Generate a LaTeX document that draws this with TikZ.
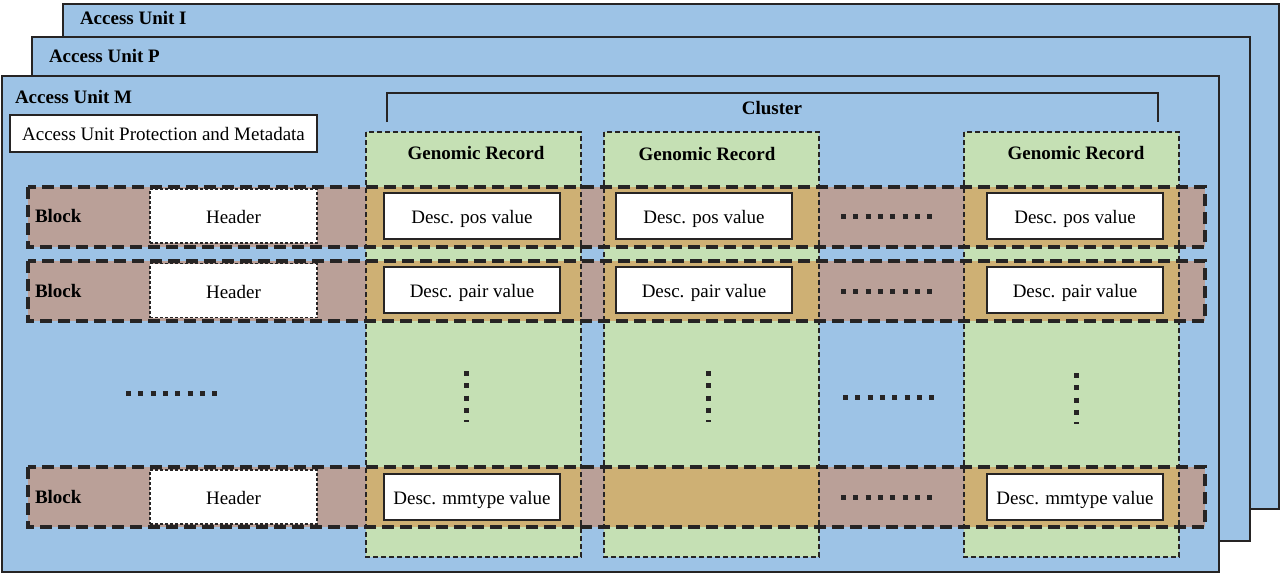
\documentclass[tikz,border=0pt]{standalone}
\usepackage{fontspec}
\setmainfont{Liberation Serif}
\usetikzlibrary{positioning}
\definecolor{aublue}{RGB}{157,195,230}
\definecolor{grgreen}{RGB}{197,224,180}
\definecolor{blkbrown}{RGB}{186,160,152}
\definecolor{overlap}{RGB}{206,176,116}
\definecolor{edge}{RGB}{38,36,36}
\tikzset{
  every node/.style={inner sep=0pt,outer sep=0pt},
  unit/.style={draw=edge,line width=2pt,fill=aublue,anchor=north west},
  title/.style={font=\fontsize{19}{22}\selectfont\bfseries,anchor=west},
  record/.style={fill=grgreen,anchor=north west,minimum width=215pt,minimum height=425pt},
  block/.style={fill=blkbrown,anchor=north west,minimum width=1177pt,minimum height=60pt},
  recedge/.style={draw=edge,line width=1.3pt,dash pattern=on 5pt off 3pt},
  blockedge/.style={draw=edge,line width=4pt,dash pattern=on 12pt off 6pt},
  header/.style={draw=edge,fill=white,line width=1.2pt,dash pattern=on 3pt off 2pt,minimum width=167pt,minimum height=54pt,text height=15pt,text depth=0pt},
  value/.style={draw=edge,fill=white,line width=2pt,minimum width=176pt,minimum height=46pt,text height=15pt,text depth=0pt},
  dots/.style={draw=edge,line width=5pt,dash pattern=on 5pt off 7.3pt}
}
\begin{document}
\begin{tikzpicture}[x=1pt,y=-1pt,font=\fontsize{19}{22}\selectfont]
  \useasboundingbox (0,0) rectangle (1280,573);
  % access units
  \node[unit,minimum width=1216pt,minimum height=505pt] (auI) at (63,4) {};
  \node[title] (tI) at (80,18) {Access Unit I};
  \node[unit,minimum width=1218pt,minimum height=504pt] (auP) at (32,37) {};
  \node[title] (tP) at (49,56) {Access Unit P};
  \node[unit,minimum width=1217pt,minimum height=496pt] (auM) at (2,76) {};
  \node[title] (tM) at (15,97) {Access Unit M};
  \node[draw=edge,fill=white,line width=2pt,minimum width=307pt,minimum height=37pt] (meta) at (163.5,133.5) {Access Unit Protection and Metadata};
  % cluster
  \coordinate (cl1) at (387,122);
  \coordinate (cl2) at (1158,122);
  \node[title,anchor=center] (cl) at (772,108) {Cluster};
  \draw[edge,line width=1.5pt] (cl1) -- ++(0,-29) -| (cl2);
  % genomic records and blocks
  \node[record] (gr1) at (366,132) {};
  \node[record] (gr2) at (604,132) {};
  \node[record] (gr3) at (964,132) {};
  \node[block] (blk1) at (28,187) {};
  \node[block] (blk2) at (28,261) {};
  \node[block] (blk3) at (28,467) {};
  \foreach \g in {gr1,gr2,gr3}
    \foreach \b in {blk1,blk2,blk3}
      \fill[overlap] (\g.west |- \b.north) rectangle (\g.east |- \b.south);
  \foreach \g in {gr1,gr2,gr3}
    \draw[recedge] (\g.north west) rectangle (\g.south east);
  \foreach \b in {blk1,blk2,blk3}
    \draw[blockedge] (\b.north west) rectangle (\b.south east);
  \node[title,anchor=center] (gt1) at (476,153) {Genomic Record};
  \node[title,anchor=center] (gt2) at (707,154) {Genomic Record};
  \node[title,anchor=center] (gt3) at (1076,153) {Genomic Record};
  % block contents
  \node[title] (bl1) at (35,216) {Block};
  \node[title] (bl2) at (35,291) {Block};
  \node[title] (bl3) at (35,497) {Block};
  \node[header] (hd1) at (233.5,216) {Header};
  \node[header] (hd2) at (233.5,290.5) {Header};
  \node[header] (hd3) at (233.5,497) {Header};
  \node[value] (v11) at (472,216) {Desc. pos value};
  \node[value] (v12) at (704,216) {Desc. pos value};
  \node[value] (v13) at (1075,216) {Desc. pos value};
  \node[value] (v21) at (472,290) {Desc. pair value};
  \node[value] (v22) at (704,290) {Desc. pair value};
  \node[value] (v23) at (1075,290) {Desc. pair value};
  \node[value] (v31) at (472,497) {Desc. mmtype value};
  \node[value] (v33) at (1075,497) {Desc. mmtype value};
  % ellipses
  \draw[dots] (841,216) -- (935,216);
  \draw[dots] (841,291) -- (935,291);
  \draw[dots] (843,397) -- (937,397);
  \draw[dots] (841,497) -- (935,497);
  \draw[dots] (126,393) -- (220,393);
  \draw[dots] (466,371) -- (466,422);
  \draw[dots] (708,371) -- (708,422);
  \draw[dots] (1076,373) -- (1076,424);
\end{tikzpicture}
\end{document}
